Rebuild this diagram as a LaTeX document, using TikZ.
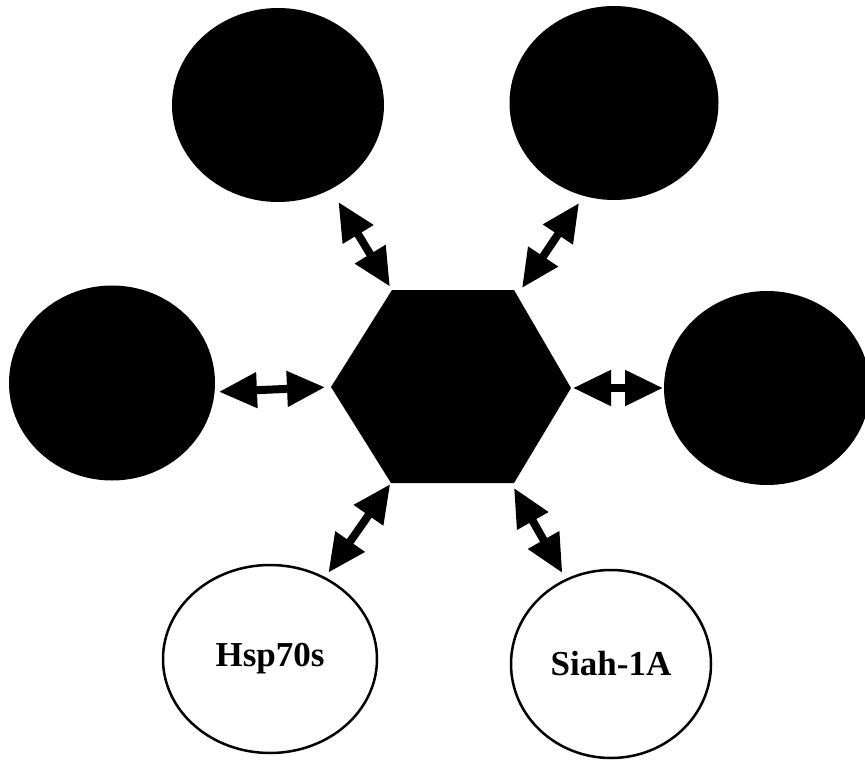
\documentclass[tikz,border=0pt]{standalone}
\usepackage{fontspec}
\setmainfont{Liberation Serif}
\usetikzlibrary{arrows.meta,shapes.geometric}

\tikzset{
  partner/.style={ellipse,fill=black,inner sep=0pt,outer sep=0pt},
  binder/.style={ellipse,draw=black,line width=2.5pt,fill=white,inner sep=0pt,outer sep=0pt,
    font=\fontsize{35}{40}\selectfont\bfseries},
  link/.style={line width=8pt,
    {Triangle[length=38pt,width=34pt]}-{Triangle[length=38pt,width=34pt]}}
}

\begin{document}
\begin{tikzpicture}[x=1pt,y=-1pt]
  \useasboundingbox (0,0) rectangle (865,760);

  \coordinate (hex-nw) at (392,290);
  \coordinate (hex-ne) at (514,290);
  \coordinate (hex-e)  at (571,388);
  \coordinate (hex-se) at (514,483);
  \coordinate (hex-sw) at (391,483);
  \coordinate (hex-w)  at (331,387);
  \fill[black] (hex-nw) -- (hex-ne) -- (hex-e) -- (hex-se) -- (hex-sw) -- (hex-w) -- cycle;

  \node[partner,minimum width=212pt,minimum height=194pt] (tl) at (278,105) {};
  \node[partner,minimum width=209pt,minimum height=194pt] (tr) at (614,103) {};
  \node[partner,minimum width=206pt,minimum height=195pt] (lf) at (112,383) {};
  \node[partner,minimum width=206pt,minimum height=194pt] (rt) at (767,388) {};
  \node[binder,minimum width=214pt,minimum height=188pt] (hsp) at (270,659) {Hsp70s};
  \node[binder,minimum width=200pt,minimum height=188pt] (siah) at (611,664) {Siah-1A};

  \draw[link,shorten <=15pt,shorten >=4pt] (tl.302) -- (hex-nw);
  \draw[link,shorten <=8.6pt] (tr.252) -- ([xshift=8pt,yshift=2pt]hex-ne);
  \draw[link,shorten <=4.4pt,shorten >=6pt] (lf.-5) -- (hex-w);
  \draw[link,shorten <=2pt,shorten >=1pt] (hex-e) -- (rt.west);
  \draw[link,shorten <=1.4pt,shorten >=6.7pt] (hex-sw) -- (hsp.56);
  \draw[link,shorten >=8pt] ([yshift=-5pt]hex-se) -- (siah.118);
\end{tikzpicture}
\end{document}
